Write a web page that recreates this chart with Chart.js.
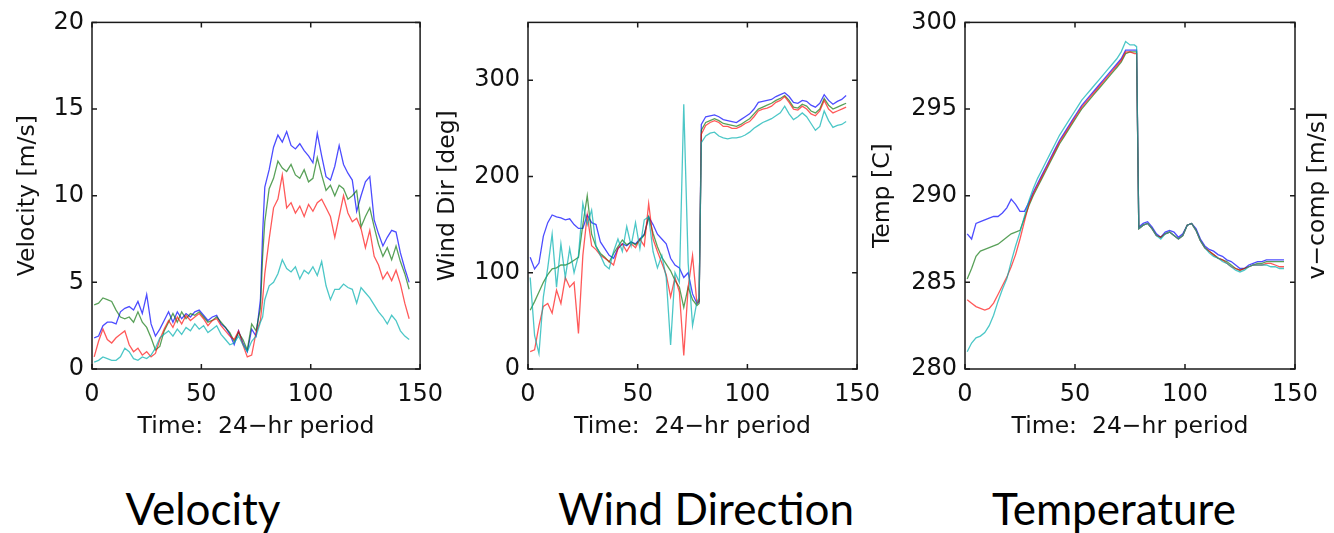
<!DOCTYPE html>
<html>
<head>
<meta charset="utf-8">
<script src="https://cdn.jsdelivr.net/npm/chart.js@4.4.1/dist/chart.umd.min.js"></script>
<style>
  body { margin: 0; background: #fff; width: 1334px; height: 533px; position: relative; overflow: hidden; }
  canvas { position: absolute; top: 0; }
  .caption { position: absolute; top: 486px; font-family: Lato, "Noto Sans", sans-serif; font-size: 44px; line-height: 44px; color: #000; transform: translateX(-50%); white-space: nowrap; }
</style>
</head>
<body>
<canvas id="velocityChart" width="454" height="450" style="left:0px"></canvas>
<canvas id="windChart" width="471" height="450" style="left:420px"></canvas>
<canvas id="tempChart" width="479" height="450" style="left:855px"></canvas>
<div class="caption" style="left:203px">Velocity</div>
<div class="caption" style="left:706px">Wind Direction</div>
<div class="caption" style="left:1114px">Temperature</div>

<script>
// time index (every 2nd sample of the 24-hr record, plus the front at 78)
const timeSteps = [1,3,5,7,9,11,13,15,17,19,21,23,25,27,29,31,33,35,37,39,41,43,45,47,49,51,53,55,57,59,61,63,65,67,69,71,73,75,77,78,79,81,83,85,87,89,91,93,95,97,99,101,103,105,107,109,111,113,115,117,119,121,123,125,127,129,131,133,135,137,139,141,143,145];
const timeTicks = [0, 50, 100, 150];

const velocityTicks = [0, 5, 10, 15, 20];
const windTicks = [0, 100, 200, 300];
const tempTicks = [280, 285, 290, 295, 300];

// velocity [m/s]
const velBlue = [1.8,1.9,2.5,2.7,2.7,2.6,3.3,3.5,3.6,3.4, 3.9,3.2,4.3,2.6,1.9,2.3,2.8,3.3,2.7,3.3, 2.9,3.2,3.0,3.3,3.4,3.1,2.8,3.0,3.1,2.6, 2.4,2.0,1.4,2.2,1.5,1.0,2.3,1.9,4.0,7.8,10.5, 11.5,12.8,13.5,13.1,13.7,12.9,12.7,13.0,12.6,12.3, 11.9,13.6,12.3,11.1,10.9,11.7,12.9,11.8,11.3,10.9, 9.1,10.0,10.8,11.1,8.6,7.8,7.1,7.6,8.0,7.9, 6.7,5.8,5.0];
const velGreen = [3.7,3.8,4.1,4.0,3.9,3.4,3.0,2.9,3.0,2.7, 3.3,2.7,2.4,1.8,1.1,1.3,2.2,2.7,3.2,2.7, 3.3,2.9,3.2,3.1,3.3,3.0,2.7,2.8,3.0,2.7, 2.4,2.1,1.6,2.1,1.7,1.1,2.6,2.2,3.5,6.5,8.5, 10.4,11.0,12.0,11.6,11.4,11.8,11.2,11.0,11.5,10.8, 11.0,12.2,11.2,10.3,10.6,10.0,10.6,10.4,9.8,10.0, 10.3,8.2,8.8,9.3,8.2,7.2,6.5,7.0,6.3,7.1, 6.2,5.5,4.6];
const velRed = [0.7,1.6,2.3,1.7,1.5,1.8,2.0,2.2,1.4,1.0, 1.2,0.8,1.0,0.7,0.9,1.7,2.3,2.8,2.4,3.0, 2.6,3.1,2.8,3.0,3.2,2.9,2.5,2.8,2.9,2.5, 2.2,1.9,1.7,2.2,1.4,0.7,0.8,2.1,2.8,4.0,5.5, 7.5,9.3,9.8,11.2,9.3,9.6,9.0,9.4,8.8,9.5, 9.1,9.6,9.8,9.3,8.8,7.6,8.8,10.0,9.0,8.5, 8.7,8.1,7.0,8.0,6.5,6.0,5.2,5.6,5.1,5.7, 4.9,3.8,2.9];
const velCyan = [0.4,0.5,0.7,0.6,0.5,0.5,0.7,1.2,1.0,0.6, 0.5,0.7,0.6,0.8,1.2,1.8,2.0,2.2,1.9,2.3, 2.0,2.4,2.2,2.6,2.3,2.5,2.1,2.3,2.5,2.0, 1.7,1.4,1.5,1.9,1.4,1.0,1.6,1.9,2.7,3.0,4.0, 4.8,5.0,5.5,6.3,5.8,5.6,5.9,5.2,5.7,5.5, 5.9,5.4,6.2,4.8,4.0,4.6,4.6,4.9,4.7,4.6, 3.8,4.7,4.4,4.1,3.7,3.3,3.0,2.6,3.1,2.8, 2.2,1.9,1.7];

// wind direction [deg]
const dirBlue = [116,104,110,138,152,160,158,157,155,156, 150,146,146,160,152,150,132,125,118,115, 125,130,128,132,130,135,140,158,150,140, 135,130,115,108,105,95,100,78,68,70, 254,262,263,264,262,259,258,257,256,259, 262,265,270,277,278,279,280,283,285,287, 283,277,276,279,278,274,272,276,285,279, 275,278,280,284];
const dirGreen = [61,70,80,90,98,104,105,108,108,110, 113,116,150,180,140,127,120,116,111,120, 127,134,129,132,129,134,139,158,141,127, 116,109,102,92,85,64,85,72,66,68, 248,256,258,260,258,255,254,253,252,254, 257,260,265,270,272,274,276,279,281,284, 279,272,271,275,273,268,266,270,281,274, 270,272,274,276];
const dirRed = [18,20,45,65,68,58,82,68,95,85, 90,37,118,160,128,124,118,115,112,108, 125,130,122,130,126,135,128,172,135,122, 110,98,75,95,80,14,85,118,68,72, 244,253,256,258,256,252,252,250,250,252, 255,257,262,268,270,271,273,277,279,283, 277,270,269,273,270,265,263,268,279,270, 266,268,270,272];
const dirCyan = [95,35,16,75,105,140,85,130,95,125, 100,118,172,150,165,128,118,108,104,122, 135,122,148,128,152,125,155,158,122,105, 118,95,25,100,90,275,110,45,70,74, 235,242,245,246,242,240,239,240,240,241, 243,246,250,253,256,258,260,263,266,273, 265,259,262,266,262,255,248,252,268,258, 251,253,254,257];

// temperature
const tempBlue = [287.8,287.5,288.4,288.5,288.6,288.7,288.8,288.8,289.0,289.3, 289.8,289.5,289.1,289.1,289.6,290.2,290.7,291.2,291.7,292.2, 292.7,293.2,293.6,294.0,294.4,294.8,295.2,295.5,295.8,296.1, 296.4,296.7,297.0,297.3,297.6,297.9,298.4,298.4,298.4,298.4,288.2, 288.4,288.5,288.2,287.8,287.6,287.9,288.0,287.9,287.6,287.8, 288.3,288.4,288.1,287.5,287.1,286.9,286.8,286.6,286.5,286.3, 286.2,286.0,285.8,285.8,286.0,286.1,286.2,286.2,286.3,286.3, 286.3,286.3,286.3];
const tempGreen = [285.2,285.8,286.5,286.8,286.9,287.0,287.1,287.2,287.4,287.6, 287.8,287.9,288.0,288.7,289.4,290.0,290.5,291.0,291.5,292.0, 292.5,293.0,293.4,293.8,294.2,294.6,295.0,295.3,295.6,295.9, 296.2,296.5,296.8,297.1,297.4,297.7,298.2,298.3,298.3,298.3,288.1, 288.3,288.4,288.1,287.7,287.6,287.8,287.9,287.7,287.5,287.7, 288.3,288.4,288.0,287.4,287.0,286.8,286.6,286.4,286.3,286.2, 286.0,285.8,285.7,285.8,285.9,286.0,286.1,286.1,286.2,286.2, 286.2,286.2,286.2];
const tempRed = [284.0,283.8,283.6,283.5,283.4,283.5,283.8,284.3,284.8,285.3, 285.9,286.6,287.5,288.5,289.5,290.1,290.6,291.1,291.6,292.1, 292.6,293.1,293.5,293.9,294.3,294.7,295.1,295.4,295.7,296.0, 296.3,296.6,296.9,297.2,297.5,297.8,298.3,298.3,298.2,298.2,288.1, 288.3,288.4,288.1,287.7,287.6,287.8,287.9,287.7,287.5,287.7, 288.3,288.4,288.0,287.4,287.0,286.8,286.6,286.4,286.3,286.1, 285.9,285.8,285.7,285.8,285.9,286.0,286.0,286.0,286.1,286.1, 286.0,285.9,285.9];
const tempCyan = [281.0,281.5,281.8,281.9,282.1,282.5,283.1,283.9,284.6,285.2, 286.2,287.1,287.9,288.8,289.7,290.4,291.0,291.5,292.0,292.5, 293.0,293.5,293.9,294.3,294.7,295.1,295.5,295.8,296.1,296.4, 296.7,297.0,297.3,297.6,297.9,298.3,298.9,298.7,298.7,298.6,288.1, 288.3,288.4,288.1,287.7,287.5,287.8,287.9,287.7,287.5,287.7, 288.3,288.4,288.0,287.4,287.0,286.7,286.5,286.4,286.2,286.1, 285.9,285.7,285.6,285.7,285.9,286.0,286.0,286.0,286.0,285.9, 285.9,285.8,285.8];

const lineColors = ['rgba(0,0,255,0.7)', 'rgba(0,110,0,0.65)', 'rgba(255,0,0,0.65)', 'rgba(0,175,175,0.7)'];
const textFont = 'DejaVu Sans';
const inkColor = '#111';

// matlab style box with inward ticks on all four sides
const boxPlugin = {
    id: 'boxPlugin',
    afterDraw(chart) {
        const { ctx, chartArea: a, scales } = chart;
        ctx.save();
        ctx.strokeStyle = '#1a1a1a';
        ctx.lineWidth = 1.5;
        ctx.strokeRect(a.left, a.top, a.right - a.left, a.bottom - a.top);
        ctx.beginPath();
        scales.x.ticks.forEach(t => {
            const px = scales.x.getPixelForValue(t.value);
            ctx.moveTo(px, a.bottom); ctx.lineTo(px, a.bottom - 5);
            ctx.moveTo(px, a.top); ctx.lineTo(px, a.top + 5);
        });
        scales.y.ticks.forEach(t => {
            const py = scales.y.getPixelForValue(t.value);
            ctx.moveTo(a.left, py); ctx.lineTo(a.left + 5, py);
            ctx.moveTo(a.right, py); ctx.lineTo(a.right - 5, py);
        });
        ctx.stroke();

        // label of the next (cut off) panel
        const side = chart.options.plugins.boxPlugin;
        if (side && side.text) {
            ctx.translate(a.right + side.offset, (a.top + a.bottom) / 2);
            ctx.rotate(-Math.PI / 2);
            ctx.font = '23.5px "' + textFont + '"';
            ctx.fillStyle = inkColor;
            ctx.textAlign = 'center';
            ctx.textBaseline = 'middle';
            ctx.fillText(side.text, 0, 0);
        }
        ctx.restore();
    }
};

function buatPanel(canvasId, series, yTicks, yMax, yTitle, axisWidth, padRight, titlePad, sideText) {
    const ctx = document.getElementById(canvasId).getContext('2d');

    return new Chart(ctx, {
        type: 'line',
        data: {
            datasets: series.map((values, i) => ({
                data: values.map((v, k) => ({ x: timeSteps[k], y: v })),
                borderColor: lineColors[i],
                borderWidth: 1.3,
                pointRadius: 0,
                tension: 0,
                fill: false,
                order: 3 - i
            }))
        },
        options: {
            responsive: false,
            animation: false,
            events: [],
            layout: { padding: { left: 0, right: padRight, top: 22, bottom: 0 } },
            plugins: {
                legend: { display: false },
                tooltip: { enabled: false },
                boxPlugin: { text: sideText, offset: 23 }
            },
            scales: {
                x: {
                    type: 'linear',
                    min: 0,
                    max: 150,
                    afterBuildTicks: s => { s.ticks = timeTicks.map(v => ({ value: v })); },
                    afterFit: s => { s.height = 81; },
                    grid: { display: false, drawTicks: false },
                    border: { display: false },
                    ticks: { color: inkColor, font: { family: textFont, size: 24 }, padding: 11, maxRotation: 0 },
                    title: {
                        display: true,
                        text: 'Time:  24\u2212hr period',
                        color: inkColor,
                        font: { family: textFont, size: 23.5 },
                        padding: { top: 0, bottom: 9 }
                    }
                },
                y: {
                    type: 'linear',
                    min: yTicks[0],
                    max: yMax,
                    afterBuildTicks: s => { s.ticks = yTicks.map(v => ({ value: v })); },
                    afterFit: s => { s.width = axisWidth; },
                    grid: { display: false, drawTicks: false },
                    border: { display: false },
                    ticks: { color: inkColor, font: { family: textFont, size: 24 }, padding: 8 },
                    title: {
                        display: true,
                        text: yTitle,
                        color: inkColor,
                        font: { family: textFont, size: 23.5 },
                        padding: { top: titlePad, bottom: 0 }
                    }
                }
            }
        },
        plugins: [boxPlugin]
    });
}

buatPanel('velocityChart', [velBlue, velGreen, velRed, velCyan], velocityTicks, 20, 'Velocity [m/s]', 92, 30, 13.4, '');
buatPanel('windChart', [dirBlue, dirGreen, dirRed, dirCyan], windTicks, 360, 'Wind Dir [deg]', 108, 30, 14, '');
buatPanel('tempChart', [tempBlue, tempGreen, tempRed, tempCyan], tempTicks, 300, 'Temp [C]', 110, 39, 13.4, 'v\u2212comp [m/s]');
</script>
</body>
</html>
